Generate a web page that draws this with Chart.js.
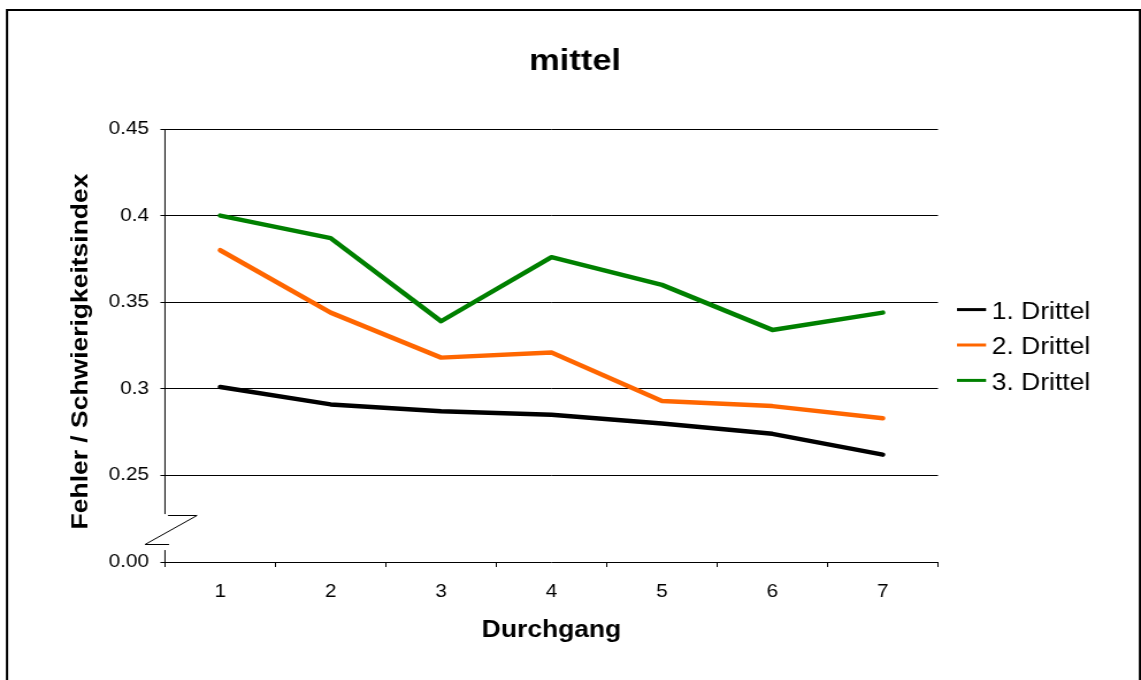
<!DOCTYPE html>
<html lang="de">
<head>
<meta charset="utf-8">
<title>mittel</title>
<script src="https://cdn.jsdelivr.net/npm/chart.js@4.4.1/dist/chart.umd.min.js"></script>
<style>
  html, body { margin: 0; padding: 0; background: #ffffff; overflow: hidden; }
  /* the chart is drawn on a narrower canvas and widened, which gives the wide lettering */
  #stage {
    width: 992px;
    height: 680px;
    transform: scaleX(1.1502);
    transform-origin: 0 0;
  }
  canvas { display: block; }
</style>
</head>
<body>
<div id="stage">
  <canvas id="chart" width="992" height="680" style="width:992px;height:680px"></canvas>
</div>
<script>
const WIDEN = 1.1502;

// Durchgang 1..7
const CATEGORIES = ['1', '2', '3', '4', '5', '6', '7'];

// Fehler / Schwierigkeitsindex per third
const DRITTEL_1 = [0.301, 0.291, 0.287, 0.285, 0.280, 0.274, 0.262];
const DRITTEL_2 = [0.380, 0.344, 0.318, 0.321, 0.293, 0.290, 0.283];
const DRITTEL_3 = [0.400, 0.387, 0.339, 0.376, 0.360, 0.334, 0.344];

const SERIES_LABELS = ['1. Drittel', '2. Drittel', '3. Drittel'];
const SERIES_COLORS = ['#000000', '#ff6600', '#008000'];

// Value axis: the lowest tick stands for zero (axis break between it and 0.25)
const Y_MIN = 0.2;
const Y_MAX = 0.45;
const Y_TICK_VALUES = [0.2, 0.25, 0.3, 0.35, 0.4, 0.45];
const Y_TICK_LABELS = ['0.00', '0.25', '0.3', '0.35', '0.4', '0.45'];

// Where the axis line stops and resumes around the break mark
const BREAK_UPPER = 0.2271;
const BREAK_LOWER = 0.2104;
const AXIS_RESUME = 0.2069;

const Y_TITLE = 'Fehler / Schwierigkeitsindex';
const FONT = '"Liberation Sans", Arial, Helvetica, sans-serif';

const isTick = (a, b) => Math.abs(a - b) < 1e-9;

// Axis line with break mark, vertical axis title, legend and outer frame
const decorations = {
  id: 'decorations',
  afterDraw(chart) {
    const ctx = chart.ctx;
    const area = chart.chartArea;
    const y = chart.scales.y;
    const x0 = area.left;

    ctx.save();
    ctx.strokeStyle = '#000';
    ctx.lineWidth = 1;
    ctx.lineCap = 'butt';

    // value axis, interrupted by the break
    ctx.beginPath();
    ctx.moveTo(x0, y.getPixelForValue(Y_MAX));
    ctx.lineTo(x0, y.getPixelForValue(BREAK_UPPER) - 1);
    ctx.moveTo(x0, y.getPixelForValue(AXIS_RESUME));
    ctx.lineTo(x0, y.getPixelForValue(Y_MIN));
    ctx.stroke();

    // break mark: short top bar, slanted stroke, short bottom bar
    const yTop = Math.round(y.getPixelForValue(BREAK_UPPER)) + 0.5;
    const yBot = Math.round(y.getPixelForValue(BREAK_LOWER)) + 0.5;
    ctx.beginPath();
    ctx.moveTo(x0 + 2.6, yTop);
    ctx.lineTo(x0 + 27.8, yTop);
    ctx.lineTo(x0 - 17.4, yBot);
    ctx.lineTo(x0 + 3.5, yBot);
    ctx.stroke();

    // vertical axis title, widened along its own reading direction only
    ctx.save();
    ctx.translate(70.4, (area.top + area.bottom) / 2 + 6);
    ctx.scale(1 / WIDEN, 1);
    ctx.rotate(-Math.PI / 2);
    ctx.scale(WIDEN, 1);
    ctx.font = 'bold 23px ' + FONT;
    ctx.fillStyle = '#000';
    ctx.textAlign = 'center';
    ctx.textBaseline = 'middle';
    ctx.fillText(Y_TITLE, 0, 0);
    ctx.restore();

    // legend
    const rowGap = 35.4;
    const midY = (area.top + area.bottom) / 2;
    const lx = area.right + 16.5;
    const lineLen = 25.3;
    ctx.font = '23px ' + FONT;
    ctx.textBaseline = 'middle';
    ctx.textAlign = 'left';
    chart.data.datasets.forEach((ds, i) => {
      const ly = midY + (i - 1) * rowGap - 0.5;
      ctx.strokeStyle = ds.borderColor;
      ctx.lineWidth = 3;
      ctx.beginPath();
      ctx.moveTo(lx, ly);
      ctx.lineTo(lx + lineLen, ly);
      ctx.stroke();
      ctx.fillStyle = '#000';
      ctx.fillText(ds.label, lx + lineLen + 4.9, ly + 3);
    });

    // outer frame
    ctx.strokeStyle = '#000';
    ctx.lineWidth = 2;
    ctx.strokeRect(6.1, 10, 985, 700);
    ctx.restore();
  }
};

new Chart(document.getElementById('chart'), {
  type: 'line',
  data: {
    labels: CATEGORIES,
    datasets: [DRITTEL_1, DRITTEL_2, DRITTEL_3].map((values, i) => ({
      label: SERIES_LABELS[i],
      data: values,
      yAxisID: 'y',
      borderColor: SERIES_COLORS[i],
      backgroundColor: SERIES_COLORS[i],
      borderWidth: 4.5,
      tension: 0,
      pointRadius: 0,
      pointHoverRadius: 0,
      fill: false,
      borderJoinStyle: 'round',
      borderCapStyle: 'round'
    }))
  },
  options: {
    responsive: false,
    animation: false,
    devicePixelRatio: 1,
    events: [],
    layout: { padding: { left: 7.8, right: 0, top: 0, bottom: 0 } },
    plugins: {
      legend: { display: false },
      tooltip: { enabled: false },
      title: {
        display: true,
        text: 'mittel',
        color: '#000',
        font: { family: FONT, size: 30, weight: 'bold' },
        padding: { top: 43.5, bottom: 49.5 }
      }
    },
    scales: {
      x: {
        type: 'category',
        offset: true,
        afterFit(scale) { scale.height = 118; },
        grid: {
          offset: true,
          drawOnChartArea: false,
          drawTicks: true,
          tickLength: 5,
          color: '#000',
          lineWidth: 1
        },
        border: { display: true, color: '#000', width: 1 },
        ticks: {
          color: '#000',
          font: { family: FONT, size: 18 },
          padding: 14.5,
          maxRotation: 0
        },
        title: {
          display: true,
          text: 'Durchgang',
          color: '#000',
          font: { family: FONT, size: 23, weight: 'bold' },
          padding: { top: 0, bottom: 35.2 }
        }
      },
      y: {
        min: Y_MIN,
        max: Y_MAX,
        position: 'left',
        afterFit(scale) { scale.width = 135.65; },
        afterBuildTicks(scale) {
          scale.ticks = Y_TICK_VALUES.map(v => ({ value: v }));
        },
        grid: {
          color: c => (c.tick && isTick(c.tick.value, Y_MIN)) ? 'rgba(0,0,0,0)' : '#000',
          tickColor: '#000',
          lineWidth: 1,
          tickLength: 4,
          drawTicks: true
        },
        border: { display: false },
        ticks: {
          color: '#000',
          font: { family: FONT, size: 18 },
          padding: 10,
          callback(value) {
            const k = Y_TICK_VALUES.findIndex(t => isTick(t, value));
            return k >= 0 ? Y_TICK_LABELS[k] : '';
          }
        },
        title: { display: false }
      },
      // reserves the strip on the right that holds the legend
      legendSpace: {
        type: 'linear',
        position: 'right',
        display: true,
        afterFit(scale) { scale.width = 176.5; },
        grid: { display: false },
        border: { display: false },
        ticks: { display: false },
        title: { display: false }
      }
    }
  },
  plugins: [decorations]
});
</script>
</body>
</html>
